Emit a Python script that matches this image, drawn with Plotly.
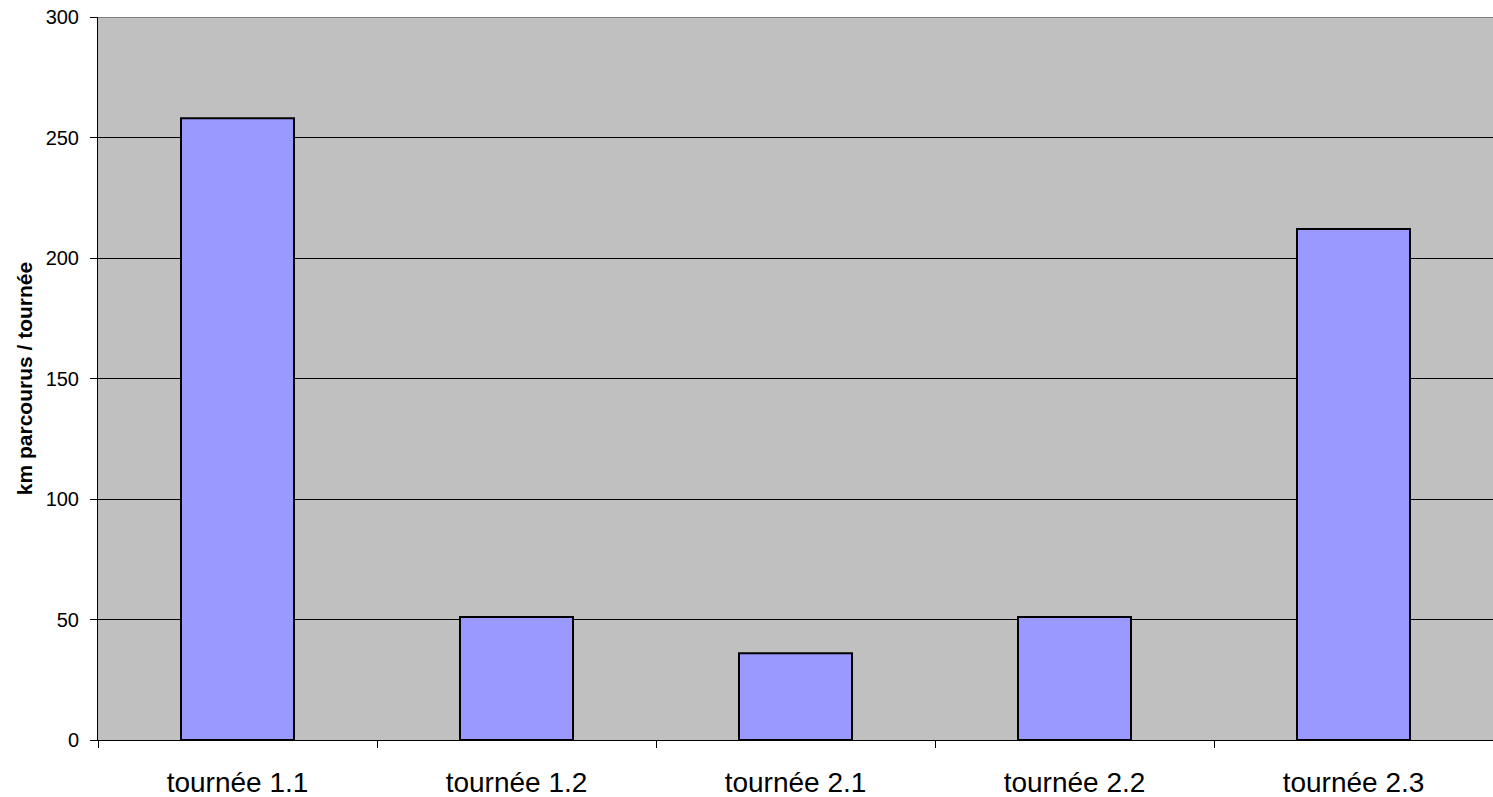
import plotly.graph_objects as go

categories = ["tournée 1.1", "tournée 1.2", "tournée 2.1", "tournée 2.2", "tournée 2.3"]
km_values = [258, 51, 36, 51, 212]
y_ticks = [0, 50, 100, 150, 200, 250, 300]

fig = go.Figure(
    go.Bar(
        x=categories,
        y=km_values,
        marker=dict(color="#9999FF", line=dict(color="black", width=2)),
        width=0.405,
    )
)

fig.update_layout(
    width=1493,
    height=797,
    margin=dict(l=98, r=0, t=17, b=57),
    paper_bgcolor="white",
    plot_bgcolor="#C0C0C0",
    showlegend=False,
    font=dict(family="Liberation Sans, Arial, sans-serif", color="black"),
)

fig.update_xaxes(
    showgrid=False,
    showline=True,
    linecolor="black",
    linewidth=1,
    ticks="outside",
    tickson="boundaries",
    ticklen=7,
    tickcolor="black",
    tickfont=dict(size=28),
    ticklabelstandoff=17,
)

fig.update_yaxes(
    range=[0, 300],
    tickvals=y_ticks,
    showgrid=True,
    gridcolor="black",
    gridwidth=1,
    showline=True,
    linecolor="black",
    linewidth=1,
    ticks="outside",
    ticklen=7,
    tickcolor="black",
    tickfont=dict(size=20),
    ticklabelstandoff=7,
    zeroline=False,
    title=dict(text="<b>km parcourus / tournée</b>", font=dict(size=21), standoff=7),
)

# gray frame edge along the top of the plotting area
fig.add_shape(
    type="line", xref="paper", yref="y", x0=0, x1=1, y0=300, y1=300,
    line=dict(color="#808080", width=2),
)

fig.write_html("out.html")
